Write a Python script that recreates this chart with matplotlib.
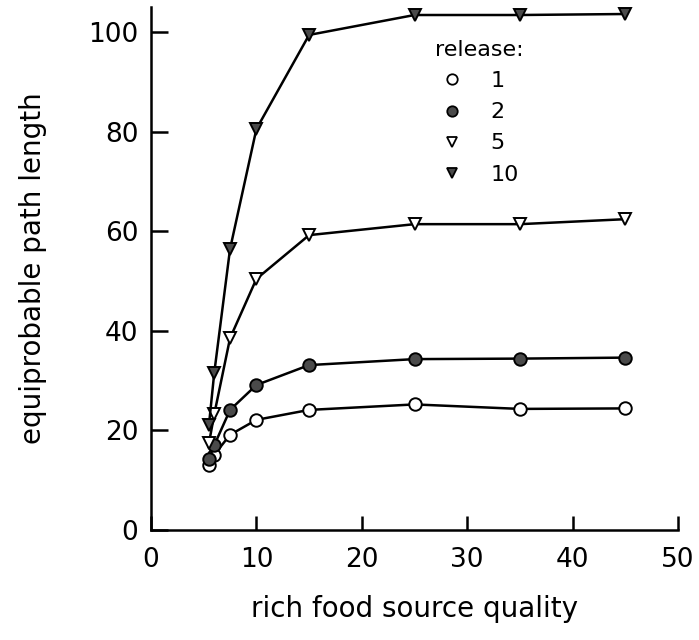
import matplotlib
matplotlib.use("Agg")
import matplotlib.pyplot as plt

# rich food source quality
quality = [5.5, 6, 7.5, 10, 15, 25, 35, 45]

# equiprobable path length per release
rel1 = [13.0, 15.1, 19.1, 22.1, 24.1, 25.2, 24.3, 24.4]
rel2 = [14.2, 17.0, 24.1, 29.1, 33.1, 34.3, 34.4, 34.6]
rel5 = [17.4, 23.2, 38.5, 50.4, 59.2, 61.4, 61.4, 62.4]
rel10 = [21.1, 31.5, 56.4, 80.5, 99.4, 103.4, 103.4, 103.6]

releases = ["1", "2", "5", "10"]
series = [rel1, rel2, rel5, rel10]

dark = "#4a4a4a"
styles = [
    dict(marker="o", mfc="white", mec="black"),
    dict(marker="o", mfc=dark, mec="black"),
    dict(marker="v", mfc="white", mec="black"),
    dict(marker="v", mfc=dark, mec="black"),
]

fig = plt.figure(figsize=(6.99, 6.4), dpi=100)
ax = fig.add_axes([0.216, 0.172, 0.754, 0.817])

handles = []
for vals, st in zip(series, styles):
    ax.plot(quality, vals, color="black", lw=1.8, ms=9, mew=1.4, **st, zorder=3)
    h, = ax.plot([], [], ls="none", ms=7.5, mew=1.3, **st)
    handles.append(h)

ax.set_xlim(0, 50)
ax.set_ylim(0, 105)
ax.set_xticks(range(0, 51, 10))
ax.set_yticks(range(0, 101, 20))
ax.spines["top"].set_visible(False)
ax.spines["right"].set_visible(False)
ax.spines["left"].set_linewidth(1.8)
ax.spines["bottom"].set_linewidth(1.8)
ax.tick_params(axis="y", direction="in", length=12, width=1.8, labelsize=19, pad=9)
ax.tick_params(axis="x", direction="in", length=10, width=1.8, labelsize=19, pad=12)

ax.set_xlabel("rich food source quality", fontsize=20, labelpad=16)
ax.set_ylabel("equiprobable path length", fontsize=20, labelpad=30)

leg = ax.legend(handles, releases, title="release:", loc="upper left",
                bbox_to_anchor=(0.5, 0.975), frameon=False, fontsize=16,
                title_fontsize=16, handletextpad=1.1, labelspacing=0.5,
                handlelength=1.2)

fig.savefig("out.png", dpi=100)
